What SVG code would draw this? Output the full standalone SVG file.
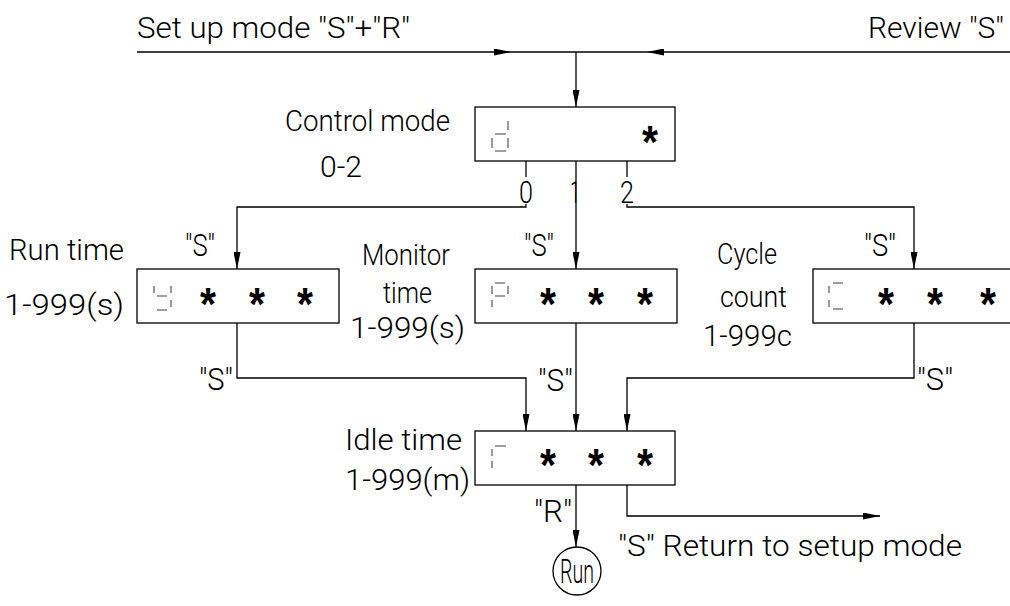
<svg xmlns="http://www.w3.org/2000/svg" width="1010" height="606" viewBox="0 0 1010 606">
<style>
.t{font-family:Roboto,"Liberation Sans",sans-serif;font-weight:300;font-size:30px;fill:#000}
.q{font-family:Roboto,"Liberation Sans",sans-serif;font-weight:300;font-size:31px;fill:#000}
.st{font-family:"Liberation Sans",sans-serif;font-weight:bold;font-size:46px;fill:#000;text-anchor:middle}
.box{fill:#fff;stroke:#000;stroke-width:1.3}
.ln{fill:none;stroke:#000;stroke-width:1.3}
.seg{stroke:#808080;stroke-width:1.6;fill:none}
</style>
<defs>
<marker id="ah" markerWidth="17" markerHeight="7" refX="17" refY="3.5" orient="auto" markerUnits="userSpaceOnUse">
<path d="M0,0 L17,3.5 L0,7 z" fill="#000"/>
</marker>
</defs>
<rect width="1010" height="606" fill="#fff"/>
<g id="connectors">
<path class="ln" d="M137 52 H511" marker-end="url(#ah)"/>
<path class="ln" d="M511 52 H647"/>
<path class="ln" d="M1010 52 H647" marker-end="url(#ah)"/>
<path class="ln" d="M576 52 V107" marker-end="url(#ah)"/>
<path class="ln" d="M526 161 V177"/>
<path class="ln" d="M526 204 V207 H237 V269" marker-end="url(#ah)"/>
<path class="ln" d="M576 161 V269" marker-end="url(#ah)"/>
<path class="ln" d="M627 161 V177"/>
<path class="ln" d="M627 204 V207 H914 V269" marker-end="url(#ah)"/>
<path class="ln" d="M237 323 V378 H526 V431" marker-end="url(#ah)"/>
<path class="ln" d="M576 323 V431" marker-end="url(#ah)"/>
<path class="ln" d="M914 323 V378 H627 V431" marker-end="url(#ah)"/>
<path class="ln" d="M576 485 V547" marker-end="url(#ah)"/>
<path class="ln" d="M627 485 V516 H880" marker-end="url(#ah)"/>
<text class="t" x="137" y="38" textLength="273" lengthAdjust="spacingAndGlyphs">Set up mode "S"+"R"</text>
<text class="t" x="868" y="38" textLength="136" lengthAdjust="spacingAndGlyphs">Review "S"</text>
<text class="q" x="519" y="203" textLength="14" lengthAdjust="spacingAndGlyphs">0</text>
<text class="q" x="570" y="203" textLength="10" lengthAdjust="spacingAndGlyphs">1</text>
<text class="q" x="620" y="203" textLength="14" lengthAdjust="spacingAndGlyphs">2</text>
<text class="q" x="185" y="256" textLength="30" lengthAdjust="spacingAndGlyphs">"S"</text>
<text class="q" x="524" y="256" textLength="30" lengthAdjust="spacingAndGlyphs">"S"</text>
<text class="q" x="864" y="256" textLength="32" lengthAdjust="spacingAndGlyphs">"S"</text>
<text class="q" x="199" y="390" textLength="34" lengthAdjust="spacingAndGlyphs">"S"</text>
<text class="q" x="538" y="391" textLength="35" lengthAdjust="spacingAndGlyphs">"S"</text>
<text class="q" x="917" y="390" textLength="36" lengthAdjust="spacingAndGlyphs">"S"</text>
<text class="q" x="534" y="522" textLength="38" lengthAdjust="spacingAndGlyphs">"R"</text>
<text class="t" x="618" y="556" textLength="344" lengthAdjust="spacingAndGlyphs">"S" Return to setup mode</text>
</g>
<g id="node-control">
<text class="t" x="285" y="131" textLength="165" lengthAdjust="spacingAndGlyphs">Control mode</text>
<text class="t" x="320" y="177" textLength="42" lengthAdjust="spacingAndGlyphs">0-2</text>
<rect class="box" x="475" y="107" width="200" height="54"/>
<path class="seg" d="M508 121V130M495 134H506M492 138V148M508 138V148M495 151H506"/>
<text class="st" x="650" y="158" textLength="16" lengthAdjust="spacingAndGlyphs">*</text>
</g>
<g id="node-run">
<text class="t" x="9" y="260" textLength="115" lengthAdjust="spacingAndGlyphs">Run time</text>
<text class="t" x="4" y="315" textLength="120" lengthAdjust="spacingAndGlyphs">1-999(s)</text>
<rect class="box" x="137" y="269" width="202" height="54"/>
<path class="seg" d="M154 286V293M171 286V293M157 296H167M171 300V307M157 310H167"/>
<text class="st" x="208" y="320" textLength="16" lengthAdjust="spacingAndGlyphs">*</text>
<text class="st" x="257" y="320" textLength="16" lengthAdjust="spacingAndGlyphs">*</text>
<text class="st" x="305" y="320" textLength="16" lengthAdjust="spacingAndGlyphs">*</text>
</g>
<g id="node-monitor">
<text class="t" x="362" y="265" textLength="88" lengthAdjust="spacingAndGlyphs">Monitor</text>
<text class="t" x="383" y="303" textLength="49" lengthAdjust="spacingAndGlyphs">time</text>
<text class="t" x="350" y="338" textLength="115" lengthAdjust="spacingAndGlyphs">1-999(s)</text>
<rect class="box" x="475" y="269" width="202" height="54"/>
<path class="seg" d="M495 283H505M492 286V294M508 286V294M495 296H505M492 300V307"/>
<text class="st" x="548" y="320" textLength="16" lengthAdjust="spacingAndGlyphs">*</text>
<text class="st" x="596" y="320" textLength="16" lengthAdjust="spacingAndGlyphs">*</text>
<text class="st" x="645" y="320" textLength="16" lengthAdjust="spacingAndGlyphs">*</text>
</g>
<g id="node-cycle">
<text class="t" x="717" y="264" textLength="60" lengthAdjust="spacingAndGlyphs">Cycle</text>
<text class="t" x="720" y="307" textLength="67" lengthAdjust="spacingAndGlyphs">count</text>
<text class="t" x="703" y="346" textLength="89" lengthAdjust="spacingAndGlyphs">1-999c</text>
<rect class="box" x="813" y="269" width="210" height="54"/>
<path class="seg" d="M833 283H843M829 286V293M829 300V307M833 309H843"/>
<text class="st" x="886" y="320" textLength="16" lengthAdjust="spacingAndGlyphs">*</text>
<text class="st" x="935" y="320" textLength="16" lengthAdjust="spacingAndGlyphs">*</text>
<text class="st" x="988" y="320" textLength="16" lengthAdjust="spacingAndGlyphs">*</text>
</g>
<g id="node-idle">
<text class="t" x="345" y="450" textLength="117" lengthAdjust="spacingAndGlyphs">Idle time</text>
<text class="t" x="345" y="490" textLength="125" lengthAdjust="spacingAndGlyphs">1-999(m)</text>
<rect class="box" x="475" y="431" width="200" height="54"/>
<path class="seg" d="M495 446H506M492 449V456M492 461V468"/>
<text class="st" x="548" y="481" textLength="16" lengthAdjust="spacingAndGlyphs">*</text>
<text class="st" x="596" y="481" textLength="16" lengthAdjust="spacingAndGlyphs">*</text>
<text class="st" x="645" y="481" textLength="16" lengthAdjust="spacingAndGlyphs">*</text>
</g>
<g id="node-runstate">
<circle class="box" cx="577" cy="571" r="24"/>
<text class="t" x="560" y="583" textLength="34" lengthAdjust="spacingAndGlyphs" style="font-size:33px">Run</text>
</g>
</svg>
